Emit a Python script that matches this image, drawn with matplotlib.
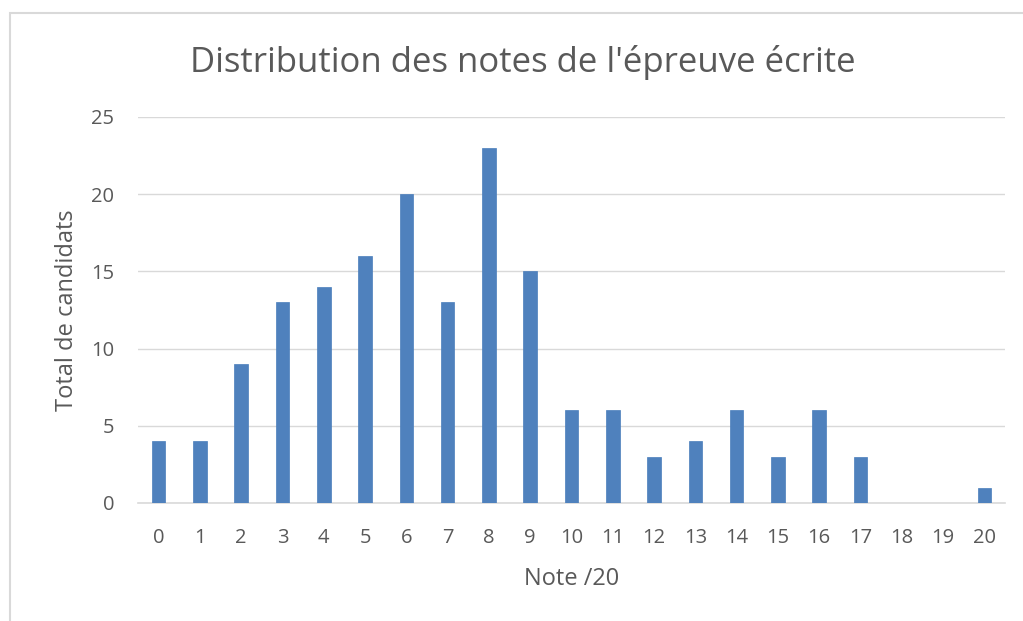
import matplotlib
matplotlib.use("Agg")
import matplotlib.pyplot as plt
from matplotlib.patches import Rectangle

notes = [str(i) for i in range(21)]
totals = [4, 4, 9, 13, 14, 16, 20, 13, 23, 15, 6, 6, 3, 4, 6, 3, 6, 3, 0, 0, 1]
yticks = [0, 5, 10, 15, 20, 25]

plt.rcParams['font.family'] = ['Open Sans', 'DejaVu Sans']
W, H = 1023, 621
fig = plt.figure(figsize=(W/100, H/100), dpi=100)
fig.patch.set_facecolor('white')
# chart frame (only top/left visible)
fig.add_artist(Rectangle((10/W, -0.1), 1.2, (H-13)/H + 0.1, transform=fig.transFigure,
                         fill=False, edgecolor='#d9d9d9', linewidth=1.5))

ax = fig.add_axes([138/W, (H-503)/H, (1005-138)/W, (503-117)/H])
x = list(range(len(notes)))
ax.bar(x, totals, width=0.33, color='#4f81bd', edgecolor='#4a7ebb', linewidth=0.5, zorder=3)
ax.set_xlim(-0.5, len(notes)-0.5)
ax.set_ylim(0, 25)
ax.set_yticks(yticks)
ax.set_xticks(x)
ax.set_xticklabels(notes)
ax.grid(axis='y', color='#d9d9d9', linewidth=1, zorder=0)
for s in ['top', 'right', 'left']:
    ax.spines[s].set_visible(False)
ax.spines['bottom'].set_color('#d9d9d9')
ax.spines['bottom'].set_linewidth(1.2)
ax.tick_params(axis='both', length=0, colors='#595959', labelsize=14.5)
ax.tick_params(axis='x', pad=18)
ax.tick_params(axis='y', pad=17)
ax.set_xlabel('Note /20', fontsize=17, color='#595959', labelpad=14)
ax.set_ylabel('Total de candidats', fontsize=17, color='#595959', labelpad=9)
fig.text(523/W, 1 - 63/H, "Distribution des notes de l'épreuve écrite", ha='center', va='center',
         fontsize=25, color='#595959')
fig.savefig('out.png', dpi=100)
